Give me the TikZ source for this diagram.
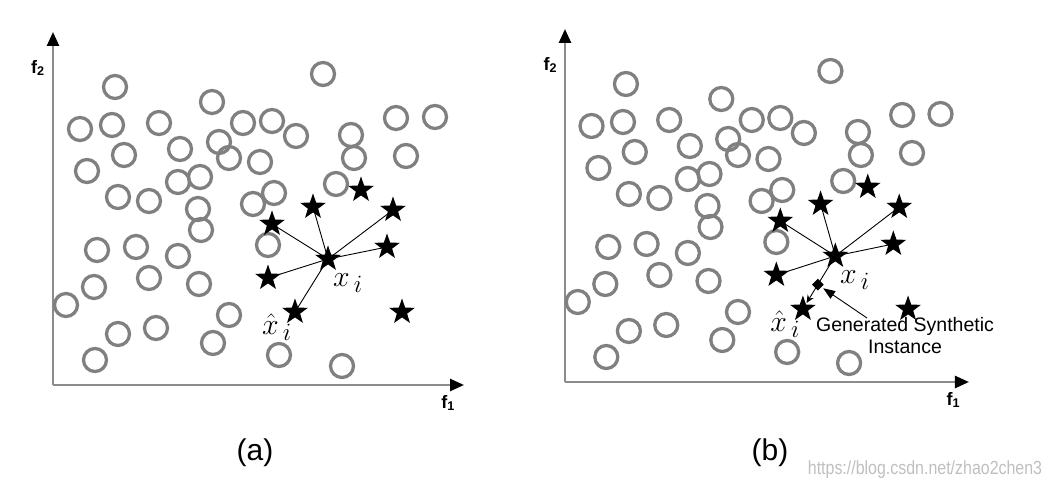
\documentclass[tikz,border=0pt]{standalone}
\usepackage{fontspec}
\setmainfont{Liberation Sans}
\usetikzlibrary{arrows.meta,shapes.geometric,calc}
\definecolor{ringgray}{RGB}{128,128,128}
\definecolor{axisgray}{RGB}{140,140,140}

\tikzset{
  majority/.style={circle, draw=ringgray, line width=3.3pt, minimum size=23pt, inner sep=0pt},
  minority/.style={star, star points=5, star point ratio=2.5, fill=black, minimum size=27pt, inner sep=0pt},
  axis/.style={draw=axisgray, line width=2.5pt, -{Triangle[length=14pt,width=12pt,color=black]}},
  axlabel/.style={font=\fontsize{18}{20}\selectfont\bfseries, inner sep=0pt},
  nbr/.style={draw=black, line width=0.9pt},
  mathlabel/.style={font=\fontsize{24.88}{30}\selectfont, scale=1.2, inner sep=0pt},
  caption/.style={font=\fontsize{30}{36}\selectfont},
}

% one scatter panel, #1 = prefix of node names, #2 = style of the line to x-hat
\newcommand{\smotepanel}[2]{%
  \coordinate (#1-o) at (53,385);
  \coordinate (#1-xend) at (464,385);
  \coordinate (#1-yend) at (53,32);
  \draw[axis] (#1-o) -- (#1-xend);
  \draw[axis] (#1-o) -- (#1-yend);
  \node[axlabel] (#1-f1) at (448,403) {f\textsubscript{1}};
  \node[axlabel] (#1-f2) at (38,68) {f\textsubscript{2}};
  % majority class
  \foreach \x/\y [count=\k] in {323/74, 115/87, 212/102, 80/129, 112/125, 159/123,
      243/123, 272/121, 296/136, 351/135, 396/118, 435/117, 180/149, 219/142,
      124/155, 229/158, 260/162, 354/158, 406/156, 87/171, 178/182, 200/177,
      336/184, 118/197, 149/201, 198/209, 274/193, 253/204, 201/230, 97/250,
      136/247, 178/256, 268/245, 94/287, 149/278, 199/284, 66/305, 118/334,
      156/328, 229/315, 213/343, 95/360, 279/355, 342/366}
    \node[majority] (#1-c\k) at (\x,\y) {};
  % minority class
  \foreach \n/\x/\y in {xi/328/259, s1/272/224, s2/313/207, s3/361/190, s4/393/210,
      s5/387/247, s6/268/278, xh/295/312, s8/402/312}
    \node[minority] (#1-\n) at (\x,\y) {};
  \foreach \n in {s1,s2,s4,s5,s6}
    \draw[nbr] (#1-xi.center) -- (#1-\n.center);
  \draw[#2] (#1-xi.center) -- (#1-xh.center);
  \node[mathlabel] (#1-lxi) at (348,283) {$x_{\,i}$};
  \node[mathlabel] (#1-lxh) at (277,327) {$\hat{x}_{\,i}$};
}

\begin{document}
\begin{tikzpicture}[x=1pt, y=-1pt]
  \useasboundingbox (0,0) rectangle (1051,494);

  \begin{scope}
    \smotepanel{a}{nbr}
  \end{scope}
  \begin{scope}[shift={(512.9,-3)}, xscale=0.983]
    \smotepanel{b}{nbr, -{Stealth[length=8pt,width=7pt]}, shorten >=7pt}
  \end{scope}

  % synthetic instance in (b)
  \node[diamond, fill=black, minimum size=12pt, inner sep=0pt] (syn)
    at ($(b-xi.center)!0.54!(b-xh.center)$) {};
  \node[align=center, font=\fontsize{19.5}{22}\selectfont, inner sep=0pt] (gen) at (905,336)
    {Generated Synthetic\\Instance};
  \coordinate (ptr) at (867,318);
  \draw[nbr, -{Triangle[length=12pt,width=9pt]}, shorten >=2pt] (ptr) -- (syn);

  \node[caption] (capa) at (255,453) {(a)};
  \node[caption] (capb) at (770,453) {(b)};
  \node[font=\fontsize{19}{22}\selectfont, text=black!25, xscale=0.84] (mark) at (925,470)
    {https://blog.csdn.net/zhao2chen3};
\end{tikzpicture}
\end{document}
